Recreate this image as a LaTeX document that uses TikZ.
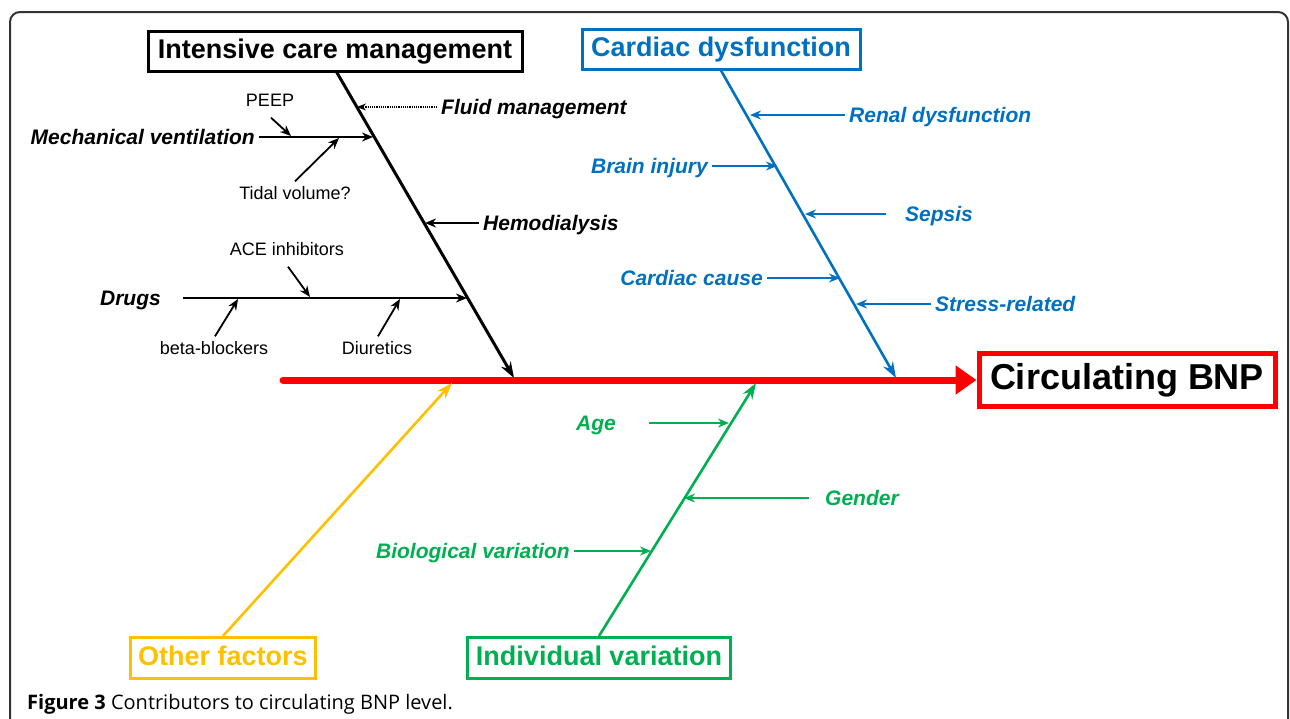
\documentclass[tikz,border=0pt]{standalone}
\usepackage{fontspec}
\setmainfont{Liberation Sans}
\newfontfamily\capfont{Open Sans}
\usetikzlibrary{arrows.meta}
\definecolor{cblue}{RGB}{0,112,192}
\definecolor{cred}{RGB}{255,0,0}
\definecolor{cyel}{RGB}{255,192,0}
\definecolor{cgreen}{RGB}{0,176,80}
\tikzset{
  headbox/.style={draw, line width=3pt, inner sep=0pt, font=\fontsize{27}{30}\selectfont\bfseries, text height=20pt, text depth=6pt},
  lab/.style={font=\fontsize{21}{24}\selectfont\bfseries\itshape, inner xsep=4pt, inner ysep=1pt, text height=17pt, text depth=2pt},
  small/.style={font=\fontsize{18}{20}\selectfont, inner sep=1pt, text height=13pt, text depth=4pt},
  arr/.style={line width=1.8pt, -{Stealth[length=11pt,width=9pt]}},
  spine/.style={line width=3pt, -{Stealth[length=16pt,width=11pt]}},
}
\begin{document}
\begin{tikzpicture}[x=1pt,y=-1pt]
\useasboundingbox (0,0) rectangle (1290,718);
% frame
\draw[line width=2pt, color=black!80, rounded corners=10pt] (10,720) -- (10,12) -- (1288,12) -- (1288,720);

% head boxes
\node[headbox, minimum width=374pt, minimum height=40pt] (icm) at (335,51) {Intensive care management};
\node[headbox, draw=cblue, text=cblue, minimum width=278pt, minimum height=40pt] (cd) at (721,49) {Cardiac dysfunction};
\node[headbox, draw=cred, line width=5pt, minimum width=296pt, minimum height=53pt, font=\fontsize{36}{40}\selectfont\bfseries, text height=26pt, text depth=8pt] (bnp) at (1127,380) {Circulating BNP};
\node[headbox, draw=cyel, text=cyel, minimum width=185pt, minimum height=41pt] (of) at (223,658) {Other factors};
\node[headbox, draw=cgreen, text=cgreen, minimum width=263pt, minimum height=41pt] (iv) at (599,658) {Individual variation};

% main line
\coordinate (rs) at (283,380);
\draw[line width=7pt, color=cred, line cap=round, -{Triangle[length=21pt,width=28pt]}] (rs) -- (bnp.west);

% spines
\coordinate (bk) at (514,378);
\coordinate (bl) at (896,378);
\coordinate (yl) at (452,383);
\coordinate (gl) at (756,383);
\draw[spine] (336,71) -- (bk);
\draw[spine, color=cblue, line width=2.6pt] (cd.south) -- (bl);
\draw[spine, color=cyel, line width=2.6pt] (of.north) -- (yl);
\draw[spine, color=cgreen, line width=2.6pt] (iv.north) -- (gl);

% intensive care branches
\node[lab, anchor=west] (fluid) at (437,107) {Fluid management};
\coordinate (f1) at (357,107);
\draw[line width=1.2pt, densely dotted, -{Stealth[length=9pt,width=7pt]}] (fluid.west) -- (f1);

\node[lab, anchor=east] (mv) at (259,137) {Mechanical ventilation};
\coordinate (mvt) at (373,137);
\draw[arr] (mv.east) -- (mvt);

\node[small] (peep) at (270,102) {PEEP};
\coordinate (pe) at (291,136);
\draw[arr] ([xshift=1pt,yshift=-6pt]peep.south) -- (pe);

\node[small] (tv) at (295,195) {Tidal volume?};
\coordinate (tvt) at (339,138);
\draw[arr] ([yshift=4pt]tv.north) -- (tvt);

\node[lab, anchor=west] (hd) at (479,223) {Hemodialysis};
\coordinate (hdt) at (425,223);
\draw[arr] (hd.west) -- (hdt);

\node[lab, anchor=east] (drugs) at (165,298) {Drugs};
\coordinate (dt) at (467,298);
\draw[arr, shorten <=18pt] (drugs.east) -- (dt);

\node[small] (ace) at (287,251) {ACE inhibitors};
\coordinate (acet) at (310,297);
\draw[arr] ([xshift=1pt,yshift=-6pt]ace.south) -- (acet);

\node[small] (bb) at (214,350) {beta-blockers};
\coordinate (bbt) at (238,299);
\draw[arr] ([xshift=1pt,yshift=4pt]bb.north) -- (bbt);

\node[small] (di) at (377,350) {Diuretics};
\coordinate (dit) at (400,299);
\draw[arr] ([xshift=1pt,yshift=4pt]di.north) -- (dit);

% cardiac branches
\begin{scope}[color=cblue]
\node[lab, text=cblue, anchor=west] (rd) at (845,115) {Renal dysfunction};
\coordinate (rdt) at (750,115);
\draw[arr] (rd.west) -- (rdt);

\node[lab, text=cblue, anchor=east] (bi) at (712,166) {Brain injury};
\coordinate (bit) at (777,166);
\draw[arr] (bi.east) -- (bit);

\node[lab, text=cblue, anchor=west] (sp) at (901,214) {Sepsis};
\coordinate (spt) at (805,214);
\draw[arr, shorten <=15pt] (sp.west) -- (spt);

\node[lab, text=cblue, anchor=east] (cc) at (767,278) {Cardiac cause};
\coordinate (cct) at (840,278);
\draw[arr] (cc.east) -- (cct);

\node[lab, text=cblue, anchor=west] (sr) at (931,304) {Stress-related};
\coordinate (srt) at (856,304);
\draw[arr] (sr.west) -- (srt);
\end{scope}

% individual variation branches
\begin{scope}[color=cgreen]
\node[lab, text=cgreen, anchor=east] (age) at (620,423) {Age};
\coordinate (aget) at (729,423);
\draw[arr, shorten <=29pt] (age.east) -- (aget);

\node[lab, text=cgreen, anchor=west] (gd) at (821,498) {Gender};
\coordinate (gdt) at (684,498);
\draw[arr, shorten <=12pt] (gd.west) -- (gdt);

\node[lab, text=cgreen, anchor=east] (bv) at (574,551) {Biological variation};
\coordinate (bvt) at (651,551);
\draw[arr] (bv.east) -- (bvt);
\end{scope}

% caption
\node[anchor=west, inner sep=0pt, font=\capfont\fontsize{20}{22}\selectfont] (cap) at (27,704) {\textbf{Figure 3} Contributors to circulating BNP level.};
\end{tikzpicture}
\end{document}
